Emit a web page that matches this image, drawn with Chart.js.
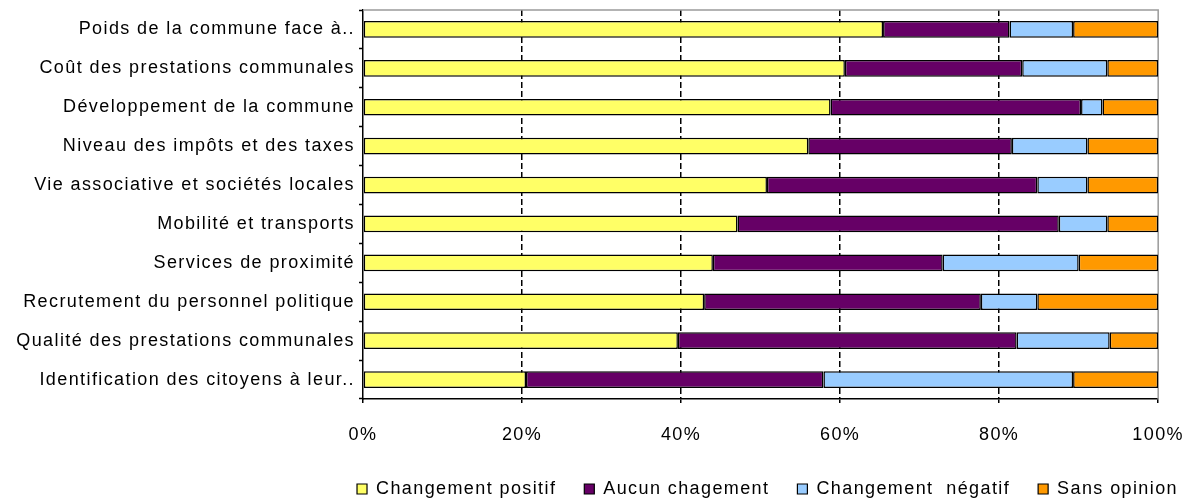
<!DOCTYPE html>
<html>
<head>
<meta charset="utf-8">
<script src="https://cdn.jsdelivr.net/npm/chart.js@4"></script>
<style>
  html, body { margin: 0; padding: 0; background: #fff; }
  #wrap { width: 1184px; height: 504px; }
</style>
</head>
<body>
<div id="wrap"><canvas id="c" width="1184" height="504"></canvas></div>
<script>
// Survey topics (top to bottom)
const categories = [
  "Poids de la commune face à..",
  "Coût des prestations communales",
  "Développement de la commune",
  "Niveau des impôts et des taxes",
  "Vie associative et sociétés locales",
  "Mobilité et transports",
  "Services de proximité",
  "Recrutement du personnel politique",
  "Qualité des prestations communales",
  "Identification des citoyens à leur.."
];

// Share of answers per topic, in percent
const positif  = [65.4, 60.6, 58.8, 56.0, 50.8, 47.1, 44.0, 42.9, 39.6, 20.5];
const aucun    = [15.9, 22.3, 31.5, 25.6, 34.0, 40.4, 28.9, 34.8, 42.6, 37.4];
const negatif  = [ 8.0, 10.7,  2.7,  9.5,  6.3,  6.1, 17.1,  7.1, 11.7, 31.4];
const sansAvis = [10.7,  6.4,  7.0,  8.9,  8.9,  6.4, 10.0, 15.2,  6.1, 10.7];

const seriesNames = ["Changement positif", "Aucun chagement", "Changement  négatif", "Sans opinion"];
const seriesColors = ["#FFFF66", "#660066", "#99CCFF", "#FF9900"];
const xTicks = [0, 20, 40, 60, 80, 100];

const FONT = "'Liberation Sans', Arial, sans-serif";
const FONT_SIZE = 18;
const LETTER_SPACING = "1.4px";
const LEGEND_GAP = 28;

// Slightly airy lettering, applied to the drawing context before layout and drawing
const spacing = {
  id: "spacing",
  afterInit(chart) { chart.ctx.letterSpacing = LETTER_SPACING; },
  beforeUpdate(chart) { chart.ctx.letterSpacing = LETTER_SPACING; },
  beforeDraw(chart) { chart.ctx.letterSpacing = LETTER_SPACING; }
};

// Legend row sits to the right, ending near the canvas edge
const legendShift = {
  id: "legendShift",
  afterLayout(chart) {
    const lg = chart.legend;
    const dx = (chart.width - 6 + LEGEND_GAP) - lg.right;
    lg.left += dx;
    lg.right += dx;
  }
};

// Grey frame on top and right of the plot area
const frame = {
  id: "frame",
  beforeDatasetsDraw(chart) {
    const { ctx, chartArea: a } = chart;
    ctx.save();
    ctx.strokeStyle = "#9a9a9a";
    ctx.lineWidth = 1.5;
    ctx.beginPath();
    ctx.moveTo(a.left, a.top);
    ctx.lineTo(a.right, a.top);
    ctx.lineTo(a.right, a.bottom);
    ctx.stroke();
    ctx.restore();
  }
};

const mk = (i, data) => ({
  label: seriesNames[i],
  data,
  backgroundColor: seriesColors[i],
  borderColor: "#000",
  borderWidth: 1.5,
  borderSkipped: false,
  barPercentage: 0.43,
  categoryPercentage: 1.0
});

new Chart(document.getElementById("c"), {
  type: "bar",
  data: {
    labels: categories,
    datasets: [mk(0, positif), mk(1, aucun), mk(2, negatif), mk(3, sansAvis)]
  },
  options: {
    indexAxis: "y",
    responsive: false,
    animation: false,
    layout: { padding: { top: 10, right: 5, left: 0, bottom: -4 } },
    scales: {
      x: {
        stacked: true,
        min: 0, max: 100,
        afterBuildTicks(axis) { axis.ticks = xTicks.map(v => ({ value: v })); },
        afterFit(axis) { axis.height = 53; },
        border: { display: true, color: "#000", width: 1.5, dash: [6, 3] },
        grid: {
          drawOnChartArea: true,
          drawTicks: true,
          tickLength: 4,
          color: ctx => (ctx.tick && (ctx.tick.value === 0 || ctx.tick.value === 100)) ? "rgba(0,0,0,0)" : "#000",
          tickColor: "#000",
          lineWidth: 1.5,
          tickWidth: 1.5
        },
        ticks: {
          callback: v => v + "%",
          color: "#000",
          // tall line box drops the percentages well below the axis
          font: { family: FONT, size: FONT_SIZE, lineHeight: 3.55 },
          padding: 0,
          maxRotation: 0
        }
      },
      y: {
        stacked: true,
        afterFit(axis) { axis.width = 363; },
        border: { display: true, color: "#000", width: 1.5 },
        grid: {
          drawOnChartArea: false,
          drawTicks: true,
          tickLength: 4,
          tickColor: "#000",
          tickWidth: 1.5,
          offset: true
        },
        ticks: {
          color: "#000",
          font: { family: FONT, size: FONT_SIZE, lineHeight: 0.6 },
          padding: 4
        }
      }
    },
    plugins: {
      legend: {
        position: "bottom",
        align: "end",
        labels: {
          color: "#000",
          font: { family: FONT, size: FONT_SIZE },
          boxWidth: 10,
          boxHeight: 10,
          padding: LEGEND_GAP,
          generateLabels(chart) {
            return chart.data.datasets.map((d, i) => ({
              text: d.label,
              fillStyle: d.backgroundColor,
              strokeStyle: "#000",
              lineWidth: 1.2,
              datasetIndex: i,
              hidden: false
            }));
          }
        }
      },
      tooltip: { enabled: false }
    }
  },
  plugins: [spacing, legendShift, frame]
});
</script>
</body>
</html>
